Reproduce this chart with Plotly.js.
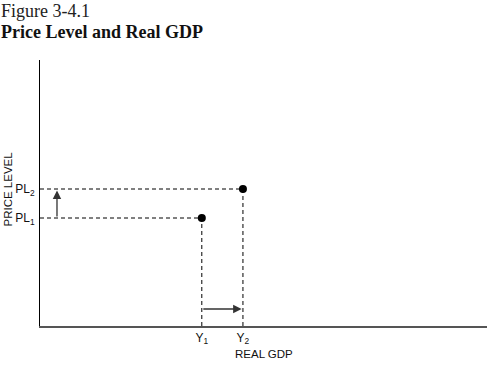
<!DOCTYPE html>
<html>
<head>
<meta charset="utf-8">
<script src="https://cdn.plot.ly/plotly-3.0.1.min.js"></script>
<style>html,body{margin:0;padding:0;background:#fff;}#chart{width:493px;height:368px;}</style>
</head>
<body>
<div id="chart"></div>
<script>
// Data
var pointLabels = ["1", "2"];
var realGDP = [36.2, 45.4];       // Y1, Y2
var priceLevel = [40.6, 51.5];    // PL1, PL2
var xTickLabels = ["Y<sub>1</sub>", "Y<sub>2</sub>"];
var yTickLabels = ["PL<sub>1</sub>", "PL<sub>2</sub>"];
var vArrowX = 3.8;   // position of the price-level shift arrow
var hArrowY = 6.4;   // position of the real-GDP shift arrow

var dashStyle = {color: "#000", width: 1, dash: "4px,3px"};
var shapes = [];
for (var i = 0; i < realGDP.length; i++) {
  shapes.push({type: "line", xref: "x", yref: "y", x0: 0, x1: realGDP[i], y0: priceLevel[i], y1: priceLevel[i], line: dashStyle, layer: "below"});
  shapes.push({type: "line", xref: "x", yref: "y", x0: realGDP[i], x1: realGDP[i], y0: 0, y1: priceLevel[i], line: dashStyle, layer: "below"});
}

var traces = [{
  type: "scatter", mode: "markers",
  x: realGDP, y: priceLevel, text: pointLabels,
  marker: {color: "#000", size: 8},
  hoverinfo: "skip", showlegend: false, cliponaxis: false
}];

var sansFont = {family: "Liberation Sans, Arial, sans-serif", size: 11.5, color: "#111"};
var tickFont = {family: "Liberation Sans, Arial, sans-serif", size: 12, color: "#111"};

var annotations = [
  {xref: "paper", yref: "paper", x: -41/447, y: 1 + 61/266, xanchor: "left", yanchor: "top",
   text: "Figure 3-4.1", showarrow: false, font: {family: "Liberation Serif, Times New Roman, serif", size: 18, color: "#222"}},
  {xref: "paper", yref: "paper", x: -41/447, y: 1 + 40/266, xanchor: "left", yanchor: "top",
   text: "<b>Price Level and Real GDP</b>", showarrow: false, font: {family: "Liberation Serif, Times New Roman, serif", size: 18, color: "#111"}},
  {xref: "paper", yref: "paper", x: -39.5/447, y: 0.515, xanchor: "left", yanchor: "middle", textangle: -90,
   text: "PRICE LEVEL", showarrow: false, font: sansFont},
  {xref: "paper", yref: "paper", x: 0.5, y: -20/266, xanchor: "center", yanchor: "top",
   text: "REAL GDP", showarrow: false, font: sansFont},
  {xref: "x", yref: "y", axref: "x", ayref: "y",
   x: vArrowX, y: priceLevel[1] - 0.6, ax: vArrowX, ay: priceLevel[0],
   showarrow: true, arrowhead: 2, arrowsize: 1.3, arrowwidth: 1.3, arrowcolor: "#333", text: "", standoff: 0},
  {xref: "x", yref: "y", axref: "x", ayref: "y",
   x: realGDP[1] - 0.3, y: hArrowY, ax: realGDP[0], ay: hArrowY,
   showarrow: true, arrowhead: 2, arrowsize: 1.3, arrowwidth: 1.3, arrowcolor: "#333", text: "", standoff: 0}
];

var layout = {
  width: 493, height: 368,
  margin: {l: 40, r: 6, t: 60, b: 42},
  paper_bgcolor: "#fff", plot_bgcolor: "#fff",
  xaxis: {range: [0, 100], showgrid: false, zeroline: false, showline: true, linecolor: "#555", linewidth: 1.5,
          tickvals: realGDP, ticktext: xTickLabels, ticks: "", tickfont: tickFont, ticklabelstandoff: 0, fixedrange: true},
  yaxis: {range: [0, 100], showgrid: false, zeroline: false, showline: true, linecolor: "#000", linewidth: 1,
          tickvals: priceLevel, ticktext: yTickLabels, ticks: "", tickfont: tickFont, ticklabelstandoff: 2, fixedrange: true},
  shapes: shapes,
  annotations: annotations,
  showlegend: false
};

Plotly.newPlot("chart", traces, layout, {staticPlot: true, displayModeBar: false});
</script>
</body>
</html>
